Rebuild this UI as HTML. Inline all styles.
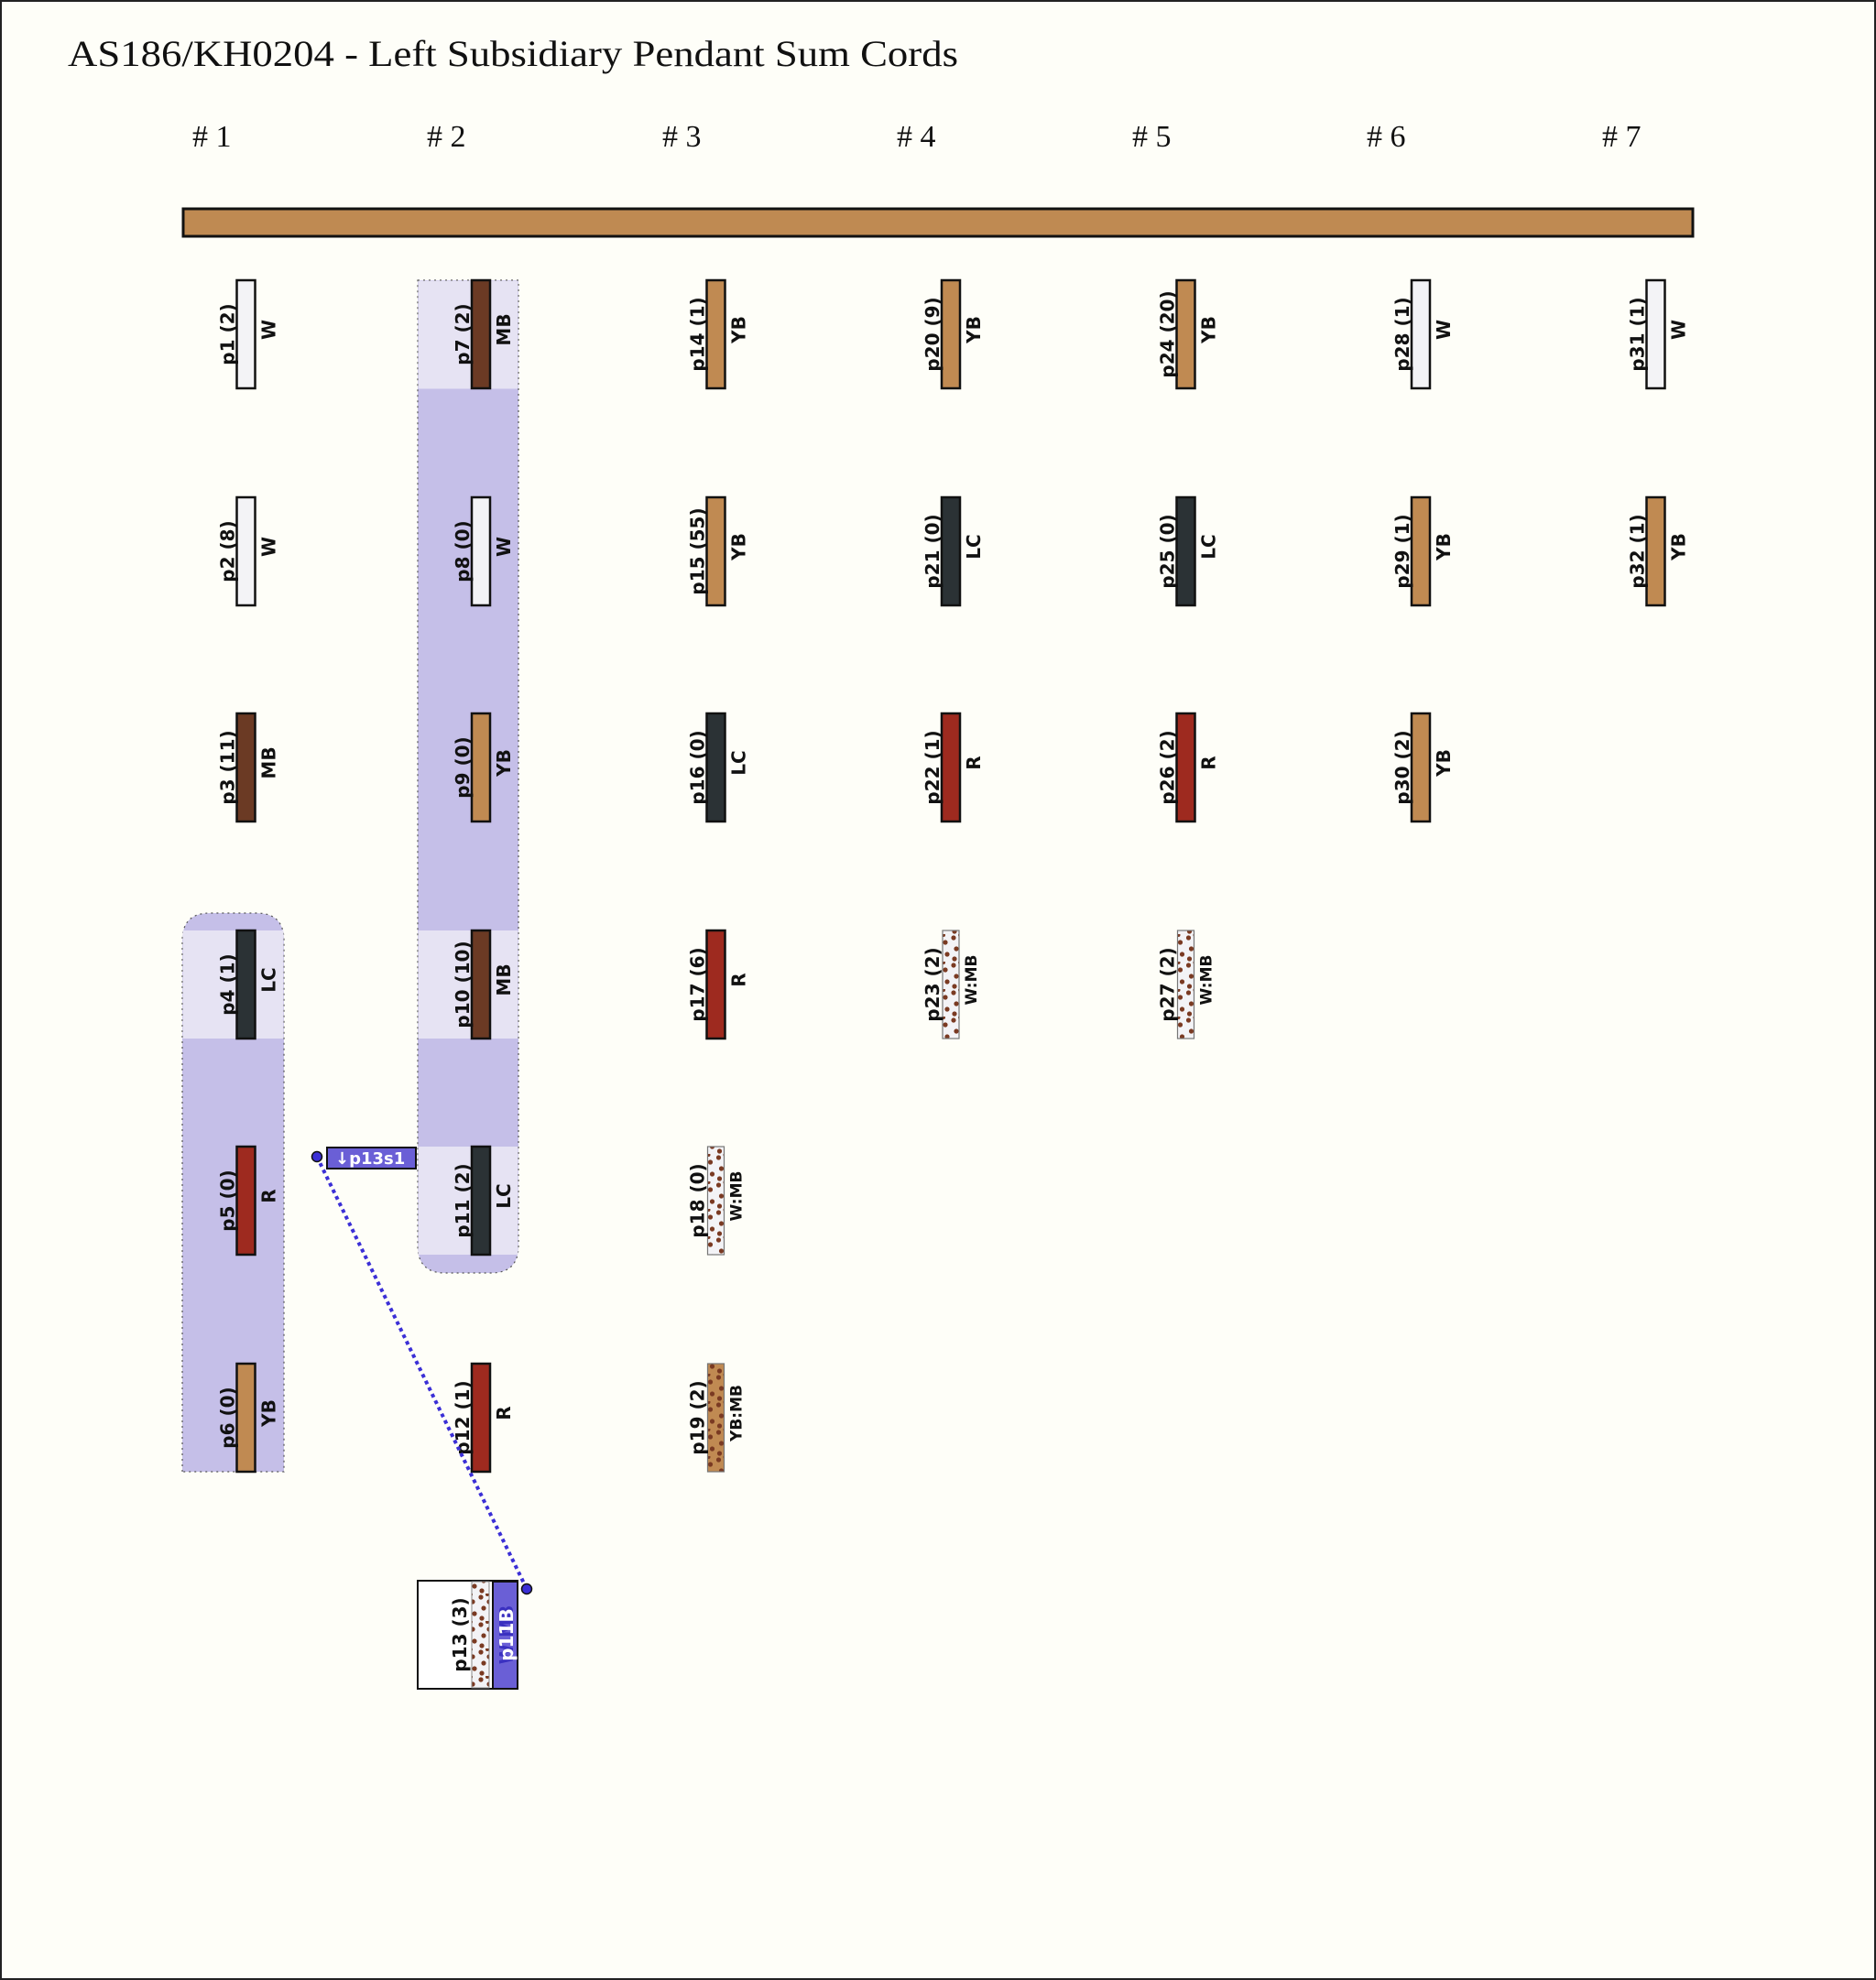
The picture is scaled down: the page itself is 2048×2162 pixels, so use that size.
<!DOCTYPE html>
<html><head><meta charset="utf-8"><style>
html,body{margin:0;padding:0;background:#fefef8;}
svg{display:block;}
.lab{font-family:"DejaVu Sans","Liberation Sans",sans-serif;font-weight:bold;font-size:20px;fill:#111;}
.ml{font-size:17px;}
.hdr{font-family:"Liberation Serif",serif;font-size:34px;fill:#111;}
.c{stroke:#111;stroke-width:2.5;}
.m{stroke:#777;stroke-width:1.2;}
</style></head><body>
<svg width="2048" height="2162" viewBox="0 0 2048 2162" xmlns="http://www.w3.org/2000/svg">
<defs>
<pattern id="wmb" width="18" height="30" patternUnits="userSpaceOnUse">
<rect width="18" height="30" fill="#f3f3f6"/>
<circle cx="3" cy="4" r="2.6" fill="#7a3a22"/><circle cx="12" cy="9" r="2.6" fill="#7a3a22"/>
<circle cx="6" cy="16" r="2.6" fill="#7a3a22"/><circle cx="14" cy="22" r="2.6" fill="#7a3a22"/>
<circle cx="4" cy="27" r="2.6" fill="#7a3a22"/><circle cx="10" cy="1" r="2" fill="#7a3a22"/>
</pattern>
<pattern id="ybmb" width="18" height="30" patternUnits="userSpaceOnUse">
<rect width="18" height="30" fill="#c08a52"/>
<circle cx="3" cy="4" r="2.6" fill="#7a3a22"/><circle cx="12" cy="9" r="2.6" fill="#7a3a22"/>
<circle cx="6" cy="16" r="2.6" fill="#7a3a22"/><circle cx="14" cy="22" r="2.6" fill="#7a3a22"/>
<circle cx="4" cy="27" r="2.6" fill="#7a3a22"/><circle cx="10" cy="1" r="2" fill="#7a3a22"/>
</pattern>
</defs>
<rect x="1" y="1" width="2046" height="2160" fill="#fefef8" stroke="#222" stroke-width="2"/>
<text x="74" y="72" class="hdr" style="font-size:40px" textLength="972" lengthAdjust="spacingAndGlyphs">AS186/KH0204 - Left Subsidiary Pendant Sum Cords</text>
<g class="hdr">
<text x="210" y="160"># 1</text><text x="466" y="160"># 2</text><text x="723" y="160"># 3</text><text x="979" y="160"># 4</text><text x="1236" y="160"># 5</text><text x="1492" y="160"># 6</text><text x="1749" y="160"># 7</text>
</g>
<rect x="200" y="228" width="1648" height="30" fill="#bf8a52" stroke="#111" stroke-width="3"/>

<path d="M199,1607 V1027 Q199,997 229,997 H280 Q310,997 310,1027 V1607 Z" fill="#c5bfe8" stroke="#555" stroke-width="1.2" stroke-dasharray="2 4"/>
<rect x="199.5" y="1016" width="110" height="118" fill="#e6e3f3"/>
<path d="M456,306 H566 V1360 Q566,1390 536,1390 H486 Q456,1390 456,1360 Z" fill="#c5bfe8" stroke="#555" stroke-width="1.2" stroke-dasharray="2 4"/>
<rect x="456.5" y="306.5" width="109" height="118" fill="#e6e3f3"/>
<rect x="456.5" y="1016" width="109" height="118" fill="#e6e3f3"/>
<rect x="456.5" y="1252" width="109" height="118" fill="#e6e3f3"/>

<g transform="translate(268.5,0)">
<rect class="c" x="-10" y="306" width="20" height="118" fill="#f3f3f6"/>
<rect class="c" x="-10" y="543" width="20" height="118" fill="#f3f3f6"/>
<rect class="c" x="-10" y="779" width="20" height="118" fill="#6b3a24"/>
<rect class="c" x="-10" y="1016" width="20" height="118" fill="#2b3235"/>
<rect class="c" x="-10" y="1252" width="20" height="118" fill="#9e2a1f"/>
<rect class="c" x="-10" y="1489" width="20" height="118" fill="#c08a52"/>
<g class="lab" text-anchor="middle">
<text transform="translate(-13,365) rotate(-90)">p1 (2)</text><text transform="translate(32,360) rotate(-90)">W</text>
<text transform="translate(-13,602) rotate(-90)">p2 (8)</text><text transform="translate(32,597) rotate(-90)">W</text>
<text transform="translate(-13,838) rotate(-90)">p3 (11)</text><text transform="translate(32,833) rotate(-90)">MB</text>
<text transform="translate(-13,1075) rotate(-90)">p4 (1)</text><text transform="translate(32,1070) rotate(-90)">LC</text>
<text transform="translate(-13,1311) rotate(-90)">p5 (0)</text><text transform="translate(32,1306) rotate(-90)">R</text>
<text transform="translate(-13,1548) rotate(-90)">p6 (0)</text><text transform="translate(32,1543) rotate(-90)">YB</text>
</g></g>
<g transform="translate(525,0)">
<rect class="c" x="-10" y="306" width="20" height="118" fill="#6b3a24"/>
<rect class="c" x="-10" y="543" width="20" height="118" fill="#f3f3f6"/>
<rect class="c" x="-10" y="779" width="20" height="118" fill="#c08a52"/>
<rect class="c" x="-10" y="1016" width="20" height="118" fill="#6b3a24"/>
<rect class="c" x="-10" y="1252" width="20" height="118" fill="#2b3235"/>
<rect class="c" x="-10" y="1489" width="20" height="118" fill="#9e2a1f"/>
<g class="lab" text-anchor="middle">
<text transform="translate(-13,365) rotate(-90)">p7 (2)</text><text transform="translate(32,360) rotate(-90)">MB</text>
<text transform="translate(-13,602) rotate(-90)">p8 (0)</text><text transform="translate(32,597) rotate(-90)">W</text>
<text transform="translate(-13,838) rotate(-90)">p9 (0)</text><text transform="translate(32,833) rotate(-90)">YB</text>
<text transform="translate(-13,1075) rotate(-90)">p10 (10)</text><text transform="translate(32,1070) rotate(-90)">MB</text>
<text transform="translate(-13,1311) rotate(-90)">p11 (2)</text><text transform="translate(32,1306) rotate(-90)">LC</text>
<text transform="translate(-13,1548) rotate(-90)">p12 (1)</text><text transform="translate(32,1543) rotate(-90)">R</text>
</g></g>
<g transform="translate(781.5,0)">
<rect class="c" x="-10" y="306" width="20" height="118" fill="#c08a52"/>
<rect class="c" x="-10" y="543" width="20" height="118" fill="#c08a52"/>
<rect class="c" x="-10" y="779" width="20" height="118" fill="#2b3235"/>
<rect class="c" x="-10" y="1016" width="20" height="118" fill="#9e2a1f"/>
<rect class="m" x="-9" y="1252" width="18" height="118" fill="url(#wmb)"/>
<rect class="m" x="-9" y="1489" width="18" height="118" fill="url(#ybmb)"/>
<g class="lab" text-anchor="middle">
<text transform="translate(-13,365) rotate(-90)">p14 (1)</text><text transform="translate(32,360) rotate(-90)">YB</text>
<text transform="translate(-13,602) rotate(-90)">p15 (55)</text><text transform="translate(32,597) rotate(-90)">YB</text>
<text transform="translate(-13,838) rotate(-90)">p16 (0)</text><text transform="translate(32,833) rotate(-90)">LC</text>
<text transform="translate(-13,1075) rotate(-90)">p17 (6)</text><text transform="translate(32,1070) rotate(-90)">R</text>
<text transform="translate(-13,1311) rotate(-90)">p18 (0)</text><text class="ml" transform="translate(28,1306) rotate(-90)">W:MB</text>
<text transform="translate(-13,1548) rotate(-90)">p19 (2)</text><text class="ml" transform="translate(28,1543) rotate(-90)">YB:MB</text>
</g></g>
<g transform="translate(1038,0)">
<rect class="c" x="-10" y="306" width="20" height="118" fill="#c08a52"/>
<rect class="c" x="-10" y="543" width="20" height="118" fill="#2b3235"/>
<rect class="c" x="-10" y="779" width="20" height="118" fill="#9e2a1f"/>
<rect class="m" x="-9" y="1016" width="18" height="118" fill="url(#wmb)"/>
<g class="lab" text-anchor="middle">
<text transform="translate(-13,365) rotate(-90)">p20 (9)</text><text transform="translate(32,360) rotate(-90)">YB</text>
<text transform="translate(-13,602) rotate(-90)">p21 (0)</text><text transform="translate(32,597) rotate(-90)">LC</text>
<text transform="translate(-13,838) rotate(-90)">p22 (1)</text><text transform="translate(32,833) rotate(-90)">R</text>
<text transform="translate(-13,1075) rotate(-90)">p23 (2)</text><text class="ml" transform="translate(28,1070) rotate(-90)">W:MB</text>
</g></g>
<g transform="translate(1294.5,0)">
<rect class="c" x="-10" y="306" width="20" height="118" fill="#c08a52"/>
<rect class="c" x="-10" y="543" width="20" height="118" fill="#2b3235"/>
<rect class="c" x="-10" y="779" width="20" height="118" fill="#9e2a1f"/>
<rect class="m" x="-9" y="1016" width="18" height="118" fill="url(#wmb)"/>
<g class="lab" text-anchor="middle">
<text transform="translate(-13,365) rotate(-90)">p24 (20)</text><text transform="translate(32,360) rotate(-90)">YB</text>
<text transform="translate(-13,602) rotate(-90)">p25 (0)</text><text transform="translate(32,597) rotate(-90)">LC</text>
<text transform="translate(-13,838) rotate(-90)">p26 (2)</text><text transform="translate(32,833) rotate(-90)">R</text>
<text transform="translate(-13,1075) rotate(-90)">p27 (2)</text><text class="ml" transform="translate(28,1070) rotate(-90)">W:MB</text>
</g></g>
<g transform="translate(1551,0)">
<rect class="c" x="-10" y="306" width="20" height="118" fill="#f3f3f6"/>
<rect class="c" x="-10" y="543" width="20" height="118" fill="#c08a52"/>
<rect class="c" x="-10" y="779" width="20" height="118" fill="#c08a52"/>
<g class="lab" text-anchor="middle">
<text transform="translate(-13,365) rotate(-90)">p28 (1)</text><text transform="translate(32,360) rotate(-90)">W</text>
<text transform="translate(-13,602) rotate(-90)">p29 (1)</text><text transform="translate(32,597) rotate(-90)">YB</text>
<text transform="translate(-13,838) rotate(-90)">p30 (2)</text><text transform="translate(32,833) rotate(-90)">YB</text>
</g></g>
<g transform="translate(1807.5,0)">
<rect class="c" x="-10" y="306" width="20" height="118" fill="#f3f3f6"/>
<rect class="c" x="-10" y="543" width="20" height="118" fill="#c08a52"/>
<g class="lab" text-anchor="middle">
<text transform="translate(-13,365) rotate(-90)">p31 (1)</text><text transform="translate(32,360) rotate(-90)">W</text>
<text transform="translate(-13,602) rotate(-90)">p32 (1)</text><text transform="translate(32,597) rotate(-90)">YB</text>
</g></g>

<rect x="456" y="1726" width="109" height="118" fill="#fff" stroke="#111" stroke-width="2"/>
<rect x="515" y="1727" width="19" height="116" fill="url(#wmb)" stroke="#888" stroke-width="1"/>
<rect x="538" y="1727" width="27" height="117" fill="#6a5fd6" stroke="#111" stroke-width="2"/>
<text class="lab" transform="translate(509,1785) rotate(-90)" text-anchor="middle">p13 (3)</text>
<text class="lab" style="fill:#3a30c0" transform="translate(560,1785) rotate(-90)" text-anchor="middle">W:MB</text>
<text class="lab" style="fill:#fff" transform="translate(560,1785) rotate(-90)" text-anchor="middle">p11B</text>

<line x1="346" y1="1263" x2="575" y2="1735" stroke="#3b2fd6" stroke-width="4" stroke-dasharray="4 4"/>
<rect x="357" y="1253" width="97" height="23" fill="#6a5fd6" stroke="#111" stroke-width="2"/>
<text x="366" y="1271" class="lab" style="fill:#fff;font-size:18px">↓p13s1</text>
<circle cx="346" cy="1263" r="5.5" fill="#3b2fd6" stroke="#111" stroke-width="1.5"/>
<circle cx="575" cy="1735" r="5.5" fill="#3b2fd6" stroke="#111" stroke-width="1.5"/>
</svg>
</body></html>
